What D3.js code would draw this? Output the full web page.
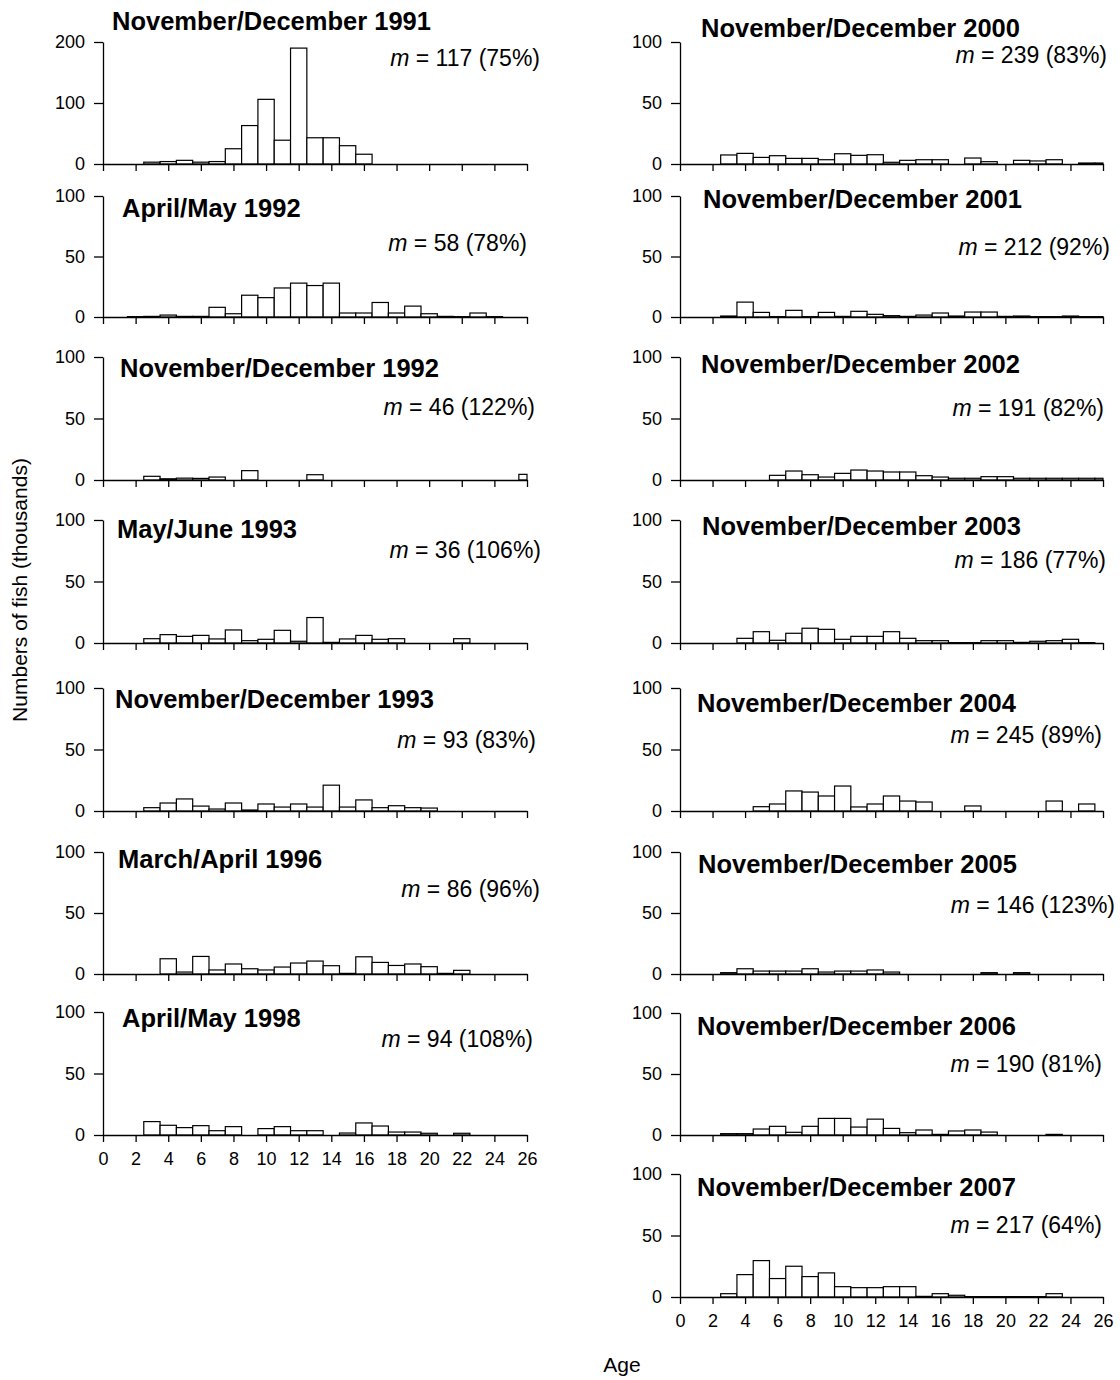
<!DOCTYPE html>
<html>
<head>
<meta charset="utf-8">
<script src="https://cdn.jsdelivr.net/npm/d3@7"></script>
<style>
  body { margin: 0; background: #fff; }
  svg { display: block; font-family: "Liberation Sans", Arial, sans-serif; }
  .axis path, .axis line { stroke: #000; stroke-width: 1.3; }
  .axis text { font-size: 18px; fill: #000; font-family: "Liberation Sans", Arial, sans-serif; }
</style>
</head>
<body>
<div id="chart"></div>
<script>
// ages 0..26, one bar per age
const ages = d3.range(0, 27);
const xTicks = d3.range(0, 27, 2);

const panelTitles = [
    "November/December 1991", "April/May 1992", "November/December 1992",
    "May/June 1993", "November/December 1993", "March/April 1996", "April/May 1998",
    "November/December 2000", "November/December 2001", "November/December 2002",
    "November/December 2003", "November/December 2004", "November/December 2005",
    "November/December 2006", "November/December 2007"
];
const mValues = ["117 (75%)", "58 (78%)", "46 (122%)", "36 (106%)", "93 (83%)", "86 (96%)", "94 (108%)",
    "239 (83%)", "212 (92%)", "191 (82%)", "186 (77%)", "245 (89%)", "146 (123%)", "190 (81%)", "217 (64%)"];
const yMaxes = [200, 100, 100, 100, 100, 100, 100, 100, 100, 100, 100, 100, 100, 100, 100];

// numbers of fish (thousands) by age 0..26
const nd1991 = [0, 0, 0, 3, 4, 6, 3, 4, 25, 63, 106, 39, 190, 43, 43, 30, 16, 0, 0, 0, 0, 0, 0, 0, 0, 0, 0];
const am1992 = [0, 0, 0.3, 0.5, 1.6, 0.5, 0.5, 8, 2.7, 18, 16, 24, 28, 26, 28, 3.3, 3.3, 12, 3.3, 9, 2.7, 0.5, 0.3, 3.3, 0.3, 0, 0];
const nd1992 = [0, 0, 0, 3, 1, 1.5, 1.3, 2.4, 0, 7.6, 0, 0, 0, 4.3, 0, 0, 0, 0, 0, 0, 0, 0, 0, 0, 0, 0, 4.6];
const mj1993 = [0, 0, 0, 3.5, 6.8, 5.4, 6.2, 3.3, 10.6, 1.9, 3, 10.3, 1.4, 20.7, 0.5, 3.3, 6.2, 3, 3.5, 0, 0, 0, 3.5, 0, 0, 0, 0];
const nd1993 = [0, 0, 0, 2.7, 6.5, 9.8, 4, 1.6, 6.5, 0.8, 5.7, 3.2, 5.7, 3.2, 21, 3.2, 9, 2.7, 4.3, 2.7, 2.4, 0, 0, 0, 0, 0, 0];
const ma1996 = [0, 0, 0, 0, 12.5, 1.6, 14.4, 3.3, 8.2, 4.3, 3.3, 5.7, 9, 10.6, 6.8, 0.5, 14.1, 9.5, 7, 8.2, 6, 0.5, 3, 0, 0, 0, 0];
const am1998 = [0, 0, 0, 10.9, 7.9, 6, 7.6, 3.5, 6.8, 0, 5.2, 6.8, 3.5, 3.5, 0, 1.6, 9.8, 7.3, 2.4, 2.4, 1.4, 0, 1.4, 0, 0, 0, 0];
const nd2000 = [0, 0, 0, 7.4, 8.7, 5.4, 6.8, 4.6, 4.6, 3.5, 8.4, 7.1, 7.6, 1.4, 3, 3.5, 3.5, 0, 4.9, 1.9, 0, 3, 2.5, 3.5, 0, 0.8, 0.8];
const nd2001 = [0, 0, 0, 0.8, 12.3, 3.8, 0.3, 5.5, 0.3, 3.8, 0.5, 4.7, 2.2, 1.1, 0.5, 1.6, 3.3, 0.8, 4.1, 4.1, 0.5, 0.8, 0.3, 0.3, 0.8, 0.3, 0.3];
const nd2002 = [0, 0, 0, 0, 0, 0, 3.8, 7.3, 4.3, 2.4, 5.4, 8.1, 7.3, 6.5, 6.5, 3.5, 2.4, 1.4, 1.4, 2.7, 2.7, 1.4, 1.4, 1.4, 1.4, 1.4, 1.4];
const nd2003 = [0, 0, 0, 0, 3.8, 9.2, 2.2, 7.9, 12, 11.1, 3, 5.4, 5.4, 9.2, 3.8, 1.9, 1.9, 0.3, 0.3, 1.9, 1.9, 0.5, 1.4, 1.9, 3, 0.3, 0];
const nd2004 = [0, 0, 0, 0, 0, 3.5, 5.7, 16.3, 15.4, 12.2, 20.3, 3.3, 5.7, 12.2, 8.1, 7.3, 0, 0, 4.1, 0, 0, 0, 0, 8.1, 0, 5.7, 0];
const nd2005 = [0, 0, 0, 1.1, 4.3, 2.4, 2.4, 2.4, 4.3, 1.6, 2.4, 2.4, 3.3, 1.6, 0, 0, 0, 0, 0, 1.1, 0, 1.1, 0, 0, 0, 0, 0];
const nd2006 = [0, 0, 0, 1.1, 1.1, 4.9, 7.1, 2.2, 7.1, 13.6, 13.6, 6.5, 13, 5.4, 1.9, 4.1, 0.5, 3.3, 4.1, 2.4, 0, 0, 0, 0.5, 0, 0, 0];
const nd2007 = [0, 0, 0, 2.7, 18.2, 29.6, 15, 25, 16.6, 19.6, 8.4, 7.6, 7.6, 8.4, 8.4, 0.5, 2.7, 1.4, 0.3, 0.3, 0.3, 0.3, 0.3, 2.7, 0, 0, 0];

const panelSeries = [nd1991, am1992, nd1992, mj1993, nd1993, ma1996, am1998,
    nd2000, nd2001, nd2002, nd2003, nd2004, nd2005, nd2006, nd2007];

// layout: plot box per panel, plus title / m-label placement
const columns = [{x0: 103, x1: 527}, {x0: 680, x1: 1103}];
const layout = [
    // col, top, bottom, title x, title y, m right x, m y
    [0, 42, 164, 112, 30, 540, 66],
    [0, 196, 317, 122, 217, 527, 251],
    [0, 357, 480, 120, 377, 535, 415],
    [0, 520, 643, 117, 538, 541, 558],
    [0, 688, 811, 115, 708, 536, 748],
    [0, 852, 974, 118, 868, 540, 897],
    [0, 1012, 1135, 122, 1027, 533, 1047],
    [1, 42, 164, 701, 37, 1107, 63],
    [1, 196, 317, 703, 208, 1110, 255],
    [1, 357, 480, 701, 373, 1104, 416],
    [1, 520, 643, 702, 535, 1106, 568],
    [1, 688, 811, 697, 712, 1102, 743],
    [1, 852, 974, 698, 873, 1115, 913],
    [1, 1013, 1135, 697, 1035, 1102, 1072],
    [1, 1174, 1297, 697, 1196, 1102, 1233]
];
const bottomPanels = [6, 14]; // panels that show x tick labels

const svg = d3.select("#chart").append("svg")
    .attr("width", 1120)
    .attr("height", 1380);

panelSeries.forEach(function(series, i) {
    let [col, top, bottom, tx, ty, mx, my] = layout[i];
    let c = columns[col];

    let xScale = d3.scaleLinear().domain([0, 26]).range([c.x0, c.x1]);
    let yScale = d3.scaleLinear().domain([0, yMaxes[i]]).range([bottom, top]);

    let g = svg.append("g");

    let barData = ages.map(function(a) { return {age: a, value: series[a]}; })
        .filter(function(d) { return d.value > 0; });

    g.selectAll(".bar")
        .data(barData)
        .enter().append("rect")
        .attr("class", "bar")
        .attr("x", function(d) { return xScale(Math.max(0, d.age - 0.5)); })
        .attr("y", function(d) { return yScale(d.value); })
        .attr("width", function(d) { return xScale(Math.min(26, d.age + 0.5)) - xScale(Math.max(0, d.age - 0.5)); })
        .attr("height", function(d) { return bottom - yScale(d.value); })
        .attr("fill", "#fff")
        .attr("stroke", "#000")
        .attr("stroke-width", 1.2);

    let showLabels = bottomPanels.includes(i);
    let xAxis = d3.axisBottom(xScale)
        .tickValues(xTicks)
        .tickSize(7)
        .tickSizeOuter(0)
        .tickPadding(10)
        .tickFormat(showLabels ? d3.format("d") : "");

    g.append("g")
        .attr("class", "axis")
        .attr("transform", `translate(0, ${bottom})`)
        .call(xAxis);

    let yAxis = d3.axisLeft(yScale)
        .tickValues([0, yMaxes[i] / 2, yMaxes[i]])
        .tickSize(9)
        .tickSizeOuter(0)
        .tickPadding(9)
        .tickFormat(d3.format("d"));

    g.append("g")
        .attr("class", "axis")
        .attr("transform", `translate(${c.x0}, 0)`)
        .call(yAxis);

    g.append("text")
        .attr("x", tx)
        .attr("y", ty)
        .style("font-size", "25.5px")
        .style("font-weight", "bold")
        .text(panelTitles[i]);

    let m = g.append("text")
        .attr("x", mx)
        .attr("y", my)
        .attr("text-anchor", "end")
        .style("font-size", "23px");
    m.append("tspan").style("font-style", "italic").text("m");
    m.append("tspan").text(" = " + mValues[i]);
});

svg.append("text")
    .attr("transform", "translate(27, 590) rotate(-90)")
    .attr("text-anchor", "middle")
    .style("font-size", "21px")
    .text("Numbers of fish (thousands)");

svg.append("text")
    .attr("x", 622)
    .attr("y", 1372)
    .attr("text-anchor", "middle")
    .style("font-size", "21px")
    .text("Age");
</script>
</body>
</html>
